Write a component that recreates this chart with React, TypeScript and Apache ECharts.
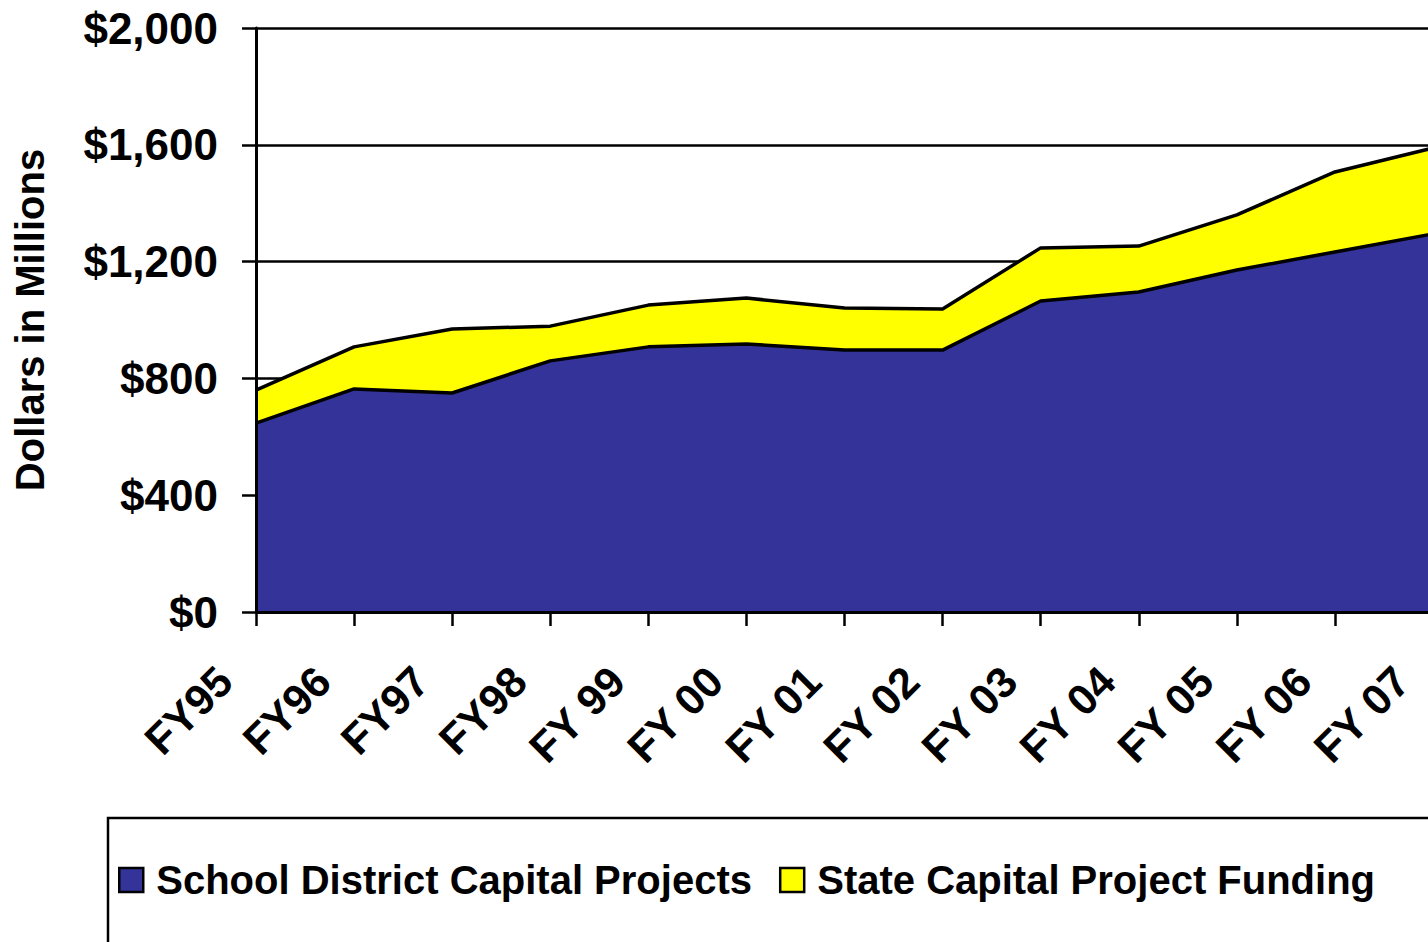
import React, { useEffect, useRef } from "react";
import * as echarts from "echarts";

const categories = ["FY95", "FY96", "FY97", "FY98", "FY 99", "FY 00", "FY 01", "FY 02", "FY 03", "FY 04", "FY 05", "FY 06", "FY 07"];
const schoolDistrict = [647, 764, 750, 860, 908, 918, 897, 897, 1065, 1096, 1171, 1233, 1295];
const stateFunding = [113, 144, 219, 119, 143, 157, 144, 141, 182, 157, 189, 274, 294];
const yTicks = { min: 0, max: 2000, interval: 400 };
const seriesNames = ["School District Capital Projects", "State Capital Project Funding"];
const seriesColors = ["#333399", "#ffff00"];

const FONT = "'Liberation Sans', Arial, sans-serif";

export default function App() {
  const ref = useRef<HTMLDivElement>(null);
  useEffect(() => {
    if (!ref.current) return;
    const chart = echarts.init(ref.current, undefined, { renderer: "svg" });
    chart.setOption({
      animation: false,
      backgroundColor: "#ffffff",
      textStyle: { fontFamily: FONT },
      grid: { left: 256, top: 28, right: 67, bottom: 330, outerBoundsMode: "none" },
      legend: {
        left: 118,
        top: 860,
        padding: 0,
        icon: "rect",
        itemWidth: 24,
        itemHeight: 24,
        itemGap: 27,
        textStyle: { fontFamily: FONT, fontSize: 40, fontWeight: "bold", color: "#000", padding: [0, 0, 0, 8] },
        data: seriesNames.map((n, i) => ({
          name: n,
          itemStyle: { color: seriesColors[i], borderColor: "#000", borderWidth: 2.5 },
        })),
      },
      graphic: [
        {
          type: "rect",
          shape: { x: 108, y: 818, width: 1500, height: 300 },
          style: { fill: "none", stroke: "#000", lineWidth: 2.5 },
          silent: true,
        },
      ],
      xAxis: {
        type: "category",
        boundaryGap: false,
        data: categories,
        axisLine: { show: true, lineStyle: { color: "#000", width: 3 } },
        axisTick: { show: true, length: 14, lineStyle: { color: "#000", width: 2.5 } },
        axisLabel: {
          interval: 0,
          rotate: 45,
          margin: 31,
          padding: [0, 44, 0, 0],
          fontFamily: FONT,
          fontSize: 43,
          fontWeight: "bold",
          color: "#000",
        },
        splitLine: { show: false },
        z: 6,
      },
      yAxis: [
        {
          type: "value",
          min: yTicks.min,
          max: yTicks.max,
          interval: yTicks.interval,
          axisLine: { show: false },
          axisTick: { show: false },
          axisLabel: { show: false },
          splitLine: { show: true, lineStyle: { color: "#000", width: 2.5 } },
          z: 0,
        },
        {
          type: "value",
          position: "left",
          min: yTicks.min,
          max: yTicks.max,
          interval: yTicks.interval,
          name: "Dollars in Millions",
          nameLocation: "middle",
          nameGap: 206,
          nameTextStyle: { fontFamily: FONT, fontSize: 40, fontWeight: "bold", color: "#000" },
          axisLine: { show: true, lineStyle: { color: "#000", width: 3 } },
          axisTick: { show: true, length: 14, lineStyle: { color: "#000", width: 2.5 } },
          axisLabel: {
            margin: 38,
            fontFamily: FONT,
            fontSize: 44,
            fontWeight: "bold",
            color: "#000",
            formatter: (v: number) => "$" + v.toLocaleString("en-US"),
          },
          splitLine: { show: false },
          z: 6,
        },
      ],
      series: [
        {
          name: seriesNames[0],
          type: "line",
          stack: "total",
          yAxisIndex: 0,
          data: schoolDistrict,
          color: seriesColors[0],
          symbol: "none",
          showSymbol: false,
          lineStyle: { color: "#000", width: 3.5 },
          areaStyle: { color: seriesColors[0], opacity: 1 },
          z: 3,
        },
        {
          name: seriesNames[1],
          type: "line",
          stack: "total",
          yAxisIndex: 0,
          data: stateFunding,
          color: seriesColors[1],
          symbol: "none",
          showSymbol: false,
          lineStyle: { color: "#000", width: 3.5 },
          areaStyle: { color: seriesColors[1], opacity: 1 },
          z: 2,
        },
      ],
    });
    return () => chart.dispose();
  }, []);
  return <div ref={ref} style={{ position: "fixed", left: 0, top: 0, width: 1500, height: 942 }} />;
}
